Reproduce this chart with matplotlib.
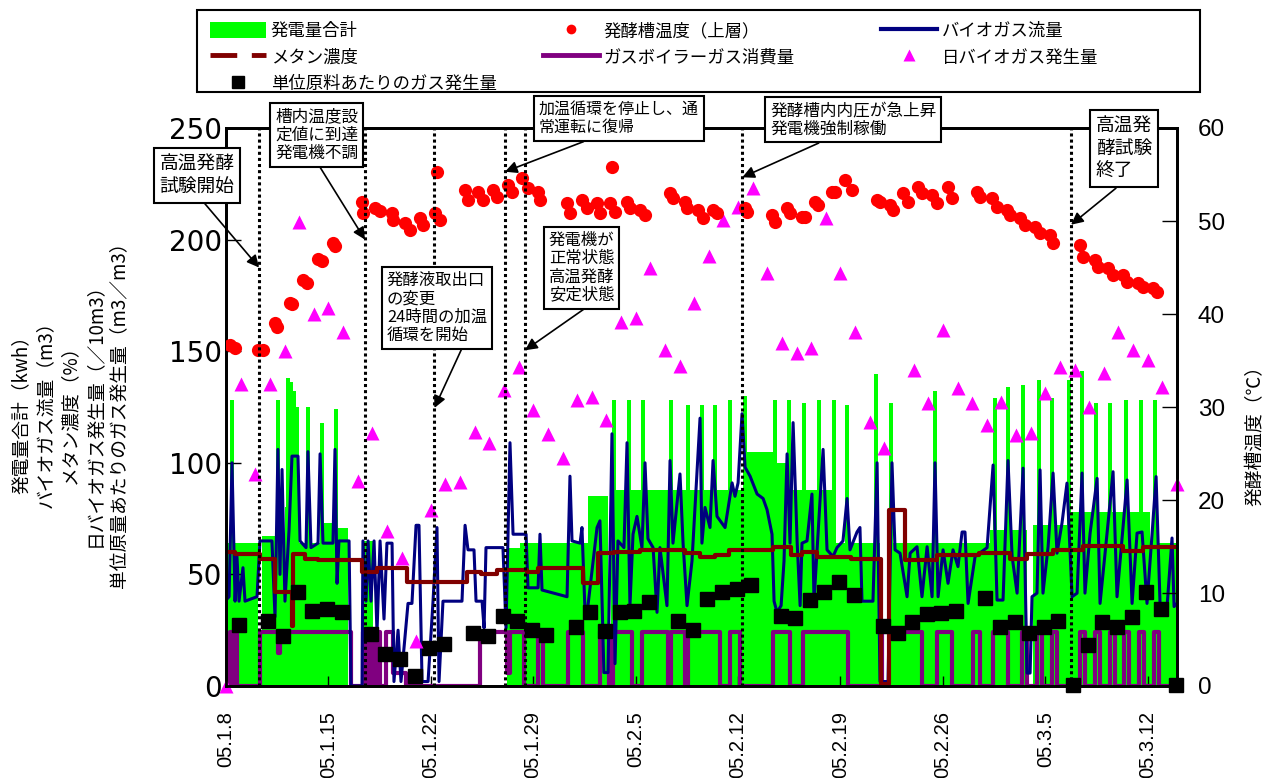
import matplotlib
matplotlib.use('Agg')
import matplotlib.pyplot as plt
from matplotlib.lines import Line2D
from matplotlib.patches import Patch, Rectangle

plt.rcParams['font.family'] = ['Noto Sans CJK JP', 'DejaVu Sans']

W, H = 1270, 778

# x axis: days counted from 05.1.8
date_ticks = [0, 7, 14, 21, 28, 35, 42, 49, 56, 63]
date_labels = ['05.1.8', '05.1.15', '05.1.22', '05.1.29', '05.2.5',
               '05.2.12', '05.2.19', '05.2.26', '05.3.5', '05.3.12']

# fermenter temperature (upper layer), right axis
temp_day = [0.27, 0.62, 2.19, 2.53, 3.35, 3.49, 4.37, 4.51, 5.26, 5.54, 6.29, 6.56, 7.31, 7.45,
            9.30, 9.36, 10.18, 10.53, 11.35, 11.41, 12.24, 12.58, 13.26, 13.47, 14.29, 14.42, 14.63,
            16.34, 16.54, 17.22, 17.57, 18.25, 18.52, 19.28, 19.55, 20.23, 20.64, 21.33, 21.46,
            23.31, 23.51, 24.33, 24.68, 25.36, 25.56, 26.25, 26.38, 26.59, 27.41, 27.61, 28.30, 28.64,
            30.35, 30.55, 31.37, 31.51, 32.26, 32.60, 33.29, 33.56, 35.48, 35.61,
            37.32, 37.53, 38.35, 38.55, 39.37, 39.58, 40.26, 40.46, 41.42, 41.63, 42.31, 42.79,
            44.50, 44.70, 45.39, 45.59, 46.27, 46.62, 47.30, 47.57, 48.26, 48.60, 49.35, 49.62,
            51.33, 51.54, 52.36, 52.70, 53.38, 53.59, 54.27, 54.61, 55.30, 55.64, 56.32, 56.53,
            58.37, 58.58, 59.40, 59.60, 60.29, 60.63, 61.31, 61.59, 62.34, 62.68, 63.36, 63.64]
temp_val = [36.7, 36.3, 36.1, 36.1, 39.0, 38.6, 41.2, 41.1, 43.7, 43.3, 45.9, 45.7, 47.6, 47.3,
            52.0, 50.9, 51.4, 51.1, 50.9, 50.1, 49.8, 49.0, 50.3, 49.6, 50.9, 55.3, 50.1,
            53.3, 52.3, 53.1, 52.3, 53.3, 52.6, 53.9, 53.1, 54.6, 53.5, 53.1, 52.3,
            51.9, 50.9, 52.3, 51.4, 51.9, 50.9, 51.9, 55.8, 51.0, 52.0, 51.4, 51.2, 50.6,
            53.0, 52.5, 52.0, 51.4, 51.2, 50.3, 51.2, 50.9, 51.4, 51.0,
            50.6, 49.9, 51.4, 50.9, 50.4, 50.4, 52.0, 51.7, 53.1, 53.1, 54.4, 53.3,
            52.3, 52.0, 51.7, 51.2, 53.0, 52.0, 53.7, 53.0, 52.8, 51.9, 53.7, 52.5,
            53.1, 52.6, 52.5, 51.5, 51.2, 50.6, 50.3, 49.6, 49.4, 48.7, 48.5, 47.6,
            47.4, 46.1, 45.8, 45.1, 44.9, 44.2, 44.2, 43.4, 43.3, 42.9, 42.8, 42.4]

# daily biogas production (/10 m3)
daily_day = list(range(0, 46)) + list(range(47, 66))
daily_val = [0, 135.3, 95, 135.3, 150, 208, 166.7, 169.4, 158.6, 91.8, 113.4, 69.4, 57.3, 20.2,
             78.9, 90.5, 91.4, 113.8, 108.9, 132.6, 142.9, 123.7, 112.9, 102.2, 128.1, 129.5,
             119.2, 163.1, 164.9, 187.3, 150.5, 143.4, 171.6, 192.7, 208.8, 214.6, 223.1, 185,
             153.7, 149.2, 151.4, 209.7, 185, 158.6, 118.3, 106.6,
             141.6, 126.8, 159.5, 133.5, 126.8, 116.9, 127.2, 112.5, 113.4, 131.3, 142.9, 141.6,
             125, 140.2, 158.6, 150.5, 146, 134, 90.5]

# gas production per unit feedstock
unit_day = [0.9, 2.9, 3.9, 4.9, 5.9, 6.9, 7.9, 9.9, 10.9, 11.9, 12.9, 13.9, 14.9,
            16.9, 17.9, 18.9, 19.9, 20.9, 21.9, 23.9, 24.9, 25.9, 26.9, 27.9, 28.9,
            30.9, 31.9, 32.9, 33.9, 34.9, 35.9, 37.9, 38.9, 39.9, 40.9, 41.9, 42.9,
            44.9, 45.9, 46.9, 47.9, 48.9, 49.9, 51.9, 52.9, 53.9, 54.9, 55.9, 56.9,
            57.9, 58.9, 59.9, 60.9, 61.9, 62.9, 63.9, 64.9]
unit_val = [27.3, 29.1, 22.4, 42.1, 33.6, 34.5, 33.2, 23.3, 14.3, 12.1, 4.5, 17, 18.8,
            23.7, 22.4, 31.4, 29.1, 25.1, 22.8, 26.4, 33.2, 24.6, 33.2, 33.6, 37.6,
            29.1, 25.1, 39, 42.1, 43.5, 45.3, 31.4, 30.5, 38.5, 42.1, 46.6, 40.8,
            26.9, 23.7, 28.7, 32.3, 32.7, 33.6, 39.4, 26.4, 28.7, 23.7, 26.4, 29.1,
            0.4, 18.4, 28.7, 26.4, 30.9, 42.1, 34.5, 0.4]

# power generation total: step levels and short peaks
power_day = [0, 2.19, 2.46, 4.03, 5.0, 6.43, 7.31, 8.34, 9.3, 10.05, 19.2, 20.1, 24.74,
             26.11, 26.32, 35.48, 37.39, 38.76, 41.63, 44.7, 45.18, 52.22, 54.75, 55.16,
             57.48, 63.16, 65]
power_val = [64, 0, 67, 80, 64, 73, 71, 0, 65, 0, 62, 64, 85,
             0, 88, 105, 100, 88, 64, 0, 64, 70, 0, 72,
             78, 64, 64]
peak_day = [0.41, 3.55, 4.24, 4.44, 4.65, 4.85, 5.6, 6.56, 7.52, 26.52, 27.55, 28.5, 30.42,
            31.58, 32.54, 33.42, 34.45, 35.48, 37.53, 38.48, 39.51, 40.53, 41.56, 42.45,
            44.43, 45.45, 48.46, 52.56, 53.45, 54.48, 55.57, 56.46, 57.62, 58.51, 59.47,
            60.42, 61.52, 62.54, 63.5]
peak_val = [128, 128, 138, 136, 132, 125, 125, 118, 124, 128, 128, 128, 128,
            126, 126, 126, 128, 130, 128, 128, 127, 128, 128, 126,
            140, 127, 132, 129, 134, 135, 137, 129, 137, 141, 127,
            127, 128, 128, 128]

# biogas flow
flow_day = [0.00, 0.21, 0.41, 0.62, 0.75, 0.89, 1.16, 1.30, 2.12, 2.32, 3.14, 3.35, 3.55, 3.69,
            3.83, 4.03, 4.31, 4.51, 4.92, 5.06, 5.47, 5.60, 5.81, 6.29, 6.43, 6.63, 7.31, 7.45,
            7.59, 7.72, 8.41, 8.54, 9.30, 9.36, 9.57, 9.71, 9.91, 10.12, 10.32, 10.53, 10.80,
            11.00, 11.35, 11.48, 11.76, 11.96, 12.44, 12.71, 12.99, 13.19, 13.40, 13.81, 14.15,
            14.42, 14.56, 14.83, 16.13, 16.34, 16.54, 16.95, 17.09, 17.50, 17.64, 17.77, 18.93,
            19.14, 19.41, 19.62, 20.51, 20.64, 21.33, 21.46, 21.60, 23.31, 23.51, 23.65, 24.20,
            24.33, 24.54, 24.74, 25.36, 25.56, 25.83, 26.11, 26.38, 26.59, 26.79, 27.20, 27.41,
            27.61, 27.82, 28.09, 28.43, 28.64, 28.84, 29.19, 29.46, 29.66, 30.14, 30.35, 30.55,
            31.03, 31.24, 31.51, 31.85, 32.40, 32.53, 32.74, 33.08, 33.29, 33.56, 34.11, 34.59,
            34.79, 35.00, 35.27, 35.48, 35.82, 36.30, 36.71, 36.98, 37.32, 37.46, 37.66, 37.94,
            38.14, 38.35, 38.55, 38.76, 39.04, 39.24, 39.37, 39.71, 40.05, 40.19, 40.40, 40.81,
            41.08, 41.49, 41.76, 42.17, 42.45, 42.65, 43.13, 43.33, 43.47, 44.22, 44.50, 44.70,
            45.25, 45.52, 45.73, 46.07, 46.55, 46.76, 47.23, 47.57, 47.92, 48.26, 48.46, 48.67,
            49.01, 49.35, 49.69, 50.03, 50.31, 50.51, 50.72, 51.20, 52.02, 52.43, 52.70, 53.11,
            53.45, 53.73, 54.07, 54.48, 54.75, 54.96, 55.09, 55.43, 55.64, 55.84, 56.19, 56.53,
            56.80, 57.14, 57.48, 57.83, 58.17, 58.51, 58.71, 59.06, 59.54, 59.74, 60.22, 60.63,
            60.90, 61.59, 61.93, 62.27, 62.61, 62.95, 63.30, 63.57, 63.84, 64.32, 64.66, 64.80,
            65.00]
flow_val = [38.5, 40, 100, 38, 58, 38, 53, 38, 40, 65, 65, 31, 106, 50,
            97, 38, 70, 103, 103, 65, 62, 105, 62, 64, 104, 64, 64, 106,
            46, 65, 65, 0, 0, 65, 38, 65, 38, 65, 24, 65, 30,
            64, 64, 2, 25, 2, 37, 37, 72, 72, 2, 2, 38,
            71, 2, 38, 38, 72, 61, 61, 38, 38, 26, 62, 62,
            26, 109, 68, 68, 44, 44, 68, 43, 40, 94, 65, 64,
            71, 33, 36, 71, 74, 6, 6, 113, 10, 65, 62, 109,
            36, 68, 76, 62, 100, 66, 62, 33, 62, 36, 101, 64,
            95, 64, 36, 56, 120, 64, 80, 71, 101, 76, 71, 91,
            85, 91, 122, 98, 94, 86, 84, 79, 68, 38, 33, 36,
            56, 104, 64, 118, 64, 36, 64, 65, 86, 38, 61, 106,
            61, 58, 62, 65, 84, 61, 69, 71, 38, 38, 100, 2,
            2, 100, 61, 59.5, 40, 59.5, 62.4, 40, 62.4, 40, 100, 40,
            61, 46, 61, 53.5, 69, 69, 37, 58, 62, 99, 38.5, 38.5,
            101, 58, 41.6, 97.6, 5.8, 5.8, 40, 41.6, 96.8, 41.6, 62.4, 95.4,
            59.5, 73, 90.9, 40, 41.6, 95.4, 41.6, 68.5, 93, 37, 68.5, 96,
            40, 92.3, 37, 68.5, 69, 37, 68.5, 93.8, 37, 35.6, 66.3, 35.6,
            37]

# methane concentration (step changes)
methane_day = [0, 0.6, 2.3, 3.35, 4.5, 4.56, 5.4, 6.3, 9.3, 10.3, 12.4, 16.5, 17.4, 18.5,
               20.6, 21.3, 24.4, 25.4, 26.5, 28.3, 31.4, 32.4, 33.4, 34.4, 37.4, 38.6, 39.4,
               40.4, 42.7, 44.75, 45.3, 46.4, 48.6, 51.5, 53.6, 54.75, 56.5, 58.6, 61.3, 62.7,
               65]
methane_val = [60, 59, 57, 42, 27, 59, 57, 56.5, 51, 53, 46.5, 51, 50, 52,
               51, 53, 46, 59.6, 60, 61, 59.6, 58, 58.7, 61, 62.3, 58.7, 60,
               58, 57, 1, 79, 56.5, 58.7, 59.6, 57, 59, 61, 62.7, 60.5, 62.3,
               62.3]

# gas boiler consumption (on/off steps)
boiler_day = [0, 0.27, 0.41, 0.55, 0.75, 2.32, 3.55, 3.7, 8.54, 9.36, 9.57, 9.77, 10.05,
              10.25, 10.53, 10.94, 11.41, 12.3, 17.36, 19.2, 19.4, 20.4, 21.3, 21.67, 23.4,
              24.4, 25.56, 26.18, 26.45, 27.75, 28.43, 30.2, 30.4, 31.37, 31.58, 33.77, 34.45,
              35.13, 37.39, 38.55, 39.44, 42.5, 44.84, 47.57, 48.6, 49.62, 51.06, 51.54, 52.43,
              53.45, 54.4, 54.75, 55.43, 55.78, 56.46, 56.8, 58.37, 58.7, 59.4, 59.74, 60.42,
              60.77, 61.38, 61.72, 62.4, 62.75, 63.43, 63.77, 65]
boiler_val = [0, 24, 0, 24, 0, 24, 15, 24, 0, 24, 0, 24, 0,
              24, 0, 24, 6, 0, 24, 6, 24, 0, 24, 0, 24,
              0, 24, 0, 24, 0, 24, 0, 24, 0, 24, 0, 24,
              0, 24, 0, 24, 0, 24, 0, 24, 0, 24, 0, 24,
              0, 24, 0, 24, 0, 24, 0, 24, 0, 24, 0, 24,
              0, 24, 0, 24, 0, 24, 0, 0]

# event markers (days) and notes
event_day = [2.26, 9.5, 14.25, 19.07, 20.44, 35.29, 57.76]
notes = [
    ('高温発酵\n試験開始', 154, 148, 2.26, 45.0, 0.53, 13.5),
    ('槽内温度設\n定値に到達\n発電機不調', 270, 103, 9.5, 48.0, 0.5, 12),
    ('発酵液取出口\nの変更\n24時間の加温\n循環を開始', 382, 267, 14.25, 29.9, 0.77, 11.8),
    ('加温循環を停止し、通\n常運転に復帰', 534, 96, 19.07, 55.3, 0.37, 11.5),
    ('発電機が\n正常状態\n高温発酵\n安定状態', 544, 227, 20.44, 36.1, 0.65, 11.8),
    ('発酵槽内内圧が急上昇\n発電機強制稼働', 765, 97, 35.29, 54.7, 0.37, 12),
    ('高温発\n酵試験\n終了', 1090, 110, 57.76, 49.6, 0.5, 13.5),
]

fig = plt.figure(figsize=(W / 100, H / 100), dpi=100)
ax = fig.add_axes([226 / W, 1 - 686 / H, (1177 - 226) / W, (686 - 128) / H])
ax2 = ax.twinx()

ax.fill_between(power_day, power_val, step='post', color='#00ff00', lw=0, zorder=1)
ax.bar(peak_day, peak_val, width=0.28, color='#00ff00', lw=0, zorder=1)
ax.plot(flow_day, flow_val, color='#000080', lw=2.2, zorder=3)
ax.step(boiler_day, boiler_val, where='post', color='#800080', lw=3, zorder=2)
ax.step(methane_day, methane_val, where='post', color='#800000', lw=3, zorder=4)
ax.plot(unit_day, unit_val, 's', color='black', ms=9.5, zorder=6, clip_on=False)
ax.plot(daily_day, daily_val, '^', color='#ff00ff', ms=10.5, mec='none', zorder=7, clip_on=False)

ax.set_xlim(0, 65)
ax.set_ylim(0, 250)
ax.set_yticks(range(0, 251, 50))
ax.set_xticks(date_ticks)
ax.set_xticklabels(date_labels, rotation=90, fontsize=14.5, family='Liberation Sans')
for lab in ax.get_yticklabels():
    lab.set_fontsize(20)
    lab.set_family('DejaVu Sans')
ax.tick_params(axis='y', direction='in', length=11, width=1, pad=3)
ax.tick_params(axis='x', direction='in', length=7, width=1, pad=18)

ax2.plot(temp_day, temp_val, 'o', color='red', ms=9.5, mec='none', zorder=8)
ax2.set_ylim(0, 60)
ax2.set_yticks(range(0, 61, 10))
for lab in ax2.get_yticklabels():
    lab.set_fontsize(17.5)
    lab.set_family('Liberation Sans')
ax2.tick_params(axis='y', direction='in', length=11, width=1, pad=15)
ax2.set_xlim(0, 65)

for a in (ax, ax2):
    for s in a.spines.values():
        s.set_linewidth(2)
        s.set_color('black')

for d in event_day:
    ax2.axvline(d, color='black', lw=2.2, ls=(0, (1, 1)), zorder=9)

for text, bx, by, tx, ty, rel, fs in notes:
    pad = 0.3 * fs * 100 / 72
    ax2.annotate(text, xy=(tx, ty), xycoords='data',
                 xytext=((bx + pad) / W, 1 - (by + pad) / H), textcoords='figure fraction',
                 ha='left', va='top', fontsize=fs, linespacing=1.1, zorder=10,
                 bbox=dict(boxstyle='square,pad=0.3', fc='white', ec='black', lw=1.5),
                 arrowprops=dict(arrowstyle='-|>', color='black', lw=1.2, mutation_scale=18,
                                 relpos=(rel, 0), shrinkA=0, shrinkB=0))

fig.text(70 / W, 1 - 410 / H,
         '発電量合計（kwh）\nバイオガス流量（m3）\nメタン濃度（%）\n日バイオガス発生量（／10m3）\n単位原量あたりのガス発生量（m3／m3）',
         rotation=90, ha='center', va='center', multialignment='center', fontsize=13.5,
         linespacing=1.2)
fig.text(1255 / W, 1 - 431 / H, '発酵槽温度（℃）', rotation=90, ha='center', va='center',
         fontsize=13.5)

# legend: frame + three columns
fig.add_artist(Rectangle((197 / W, 1 - 92 / H), (1200 - 197) / W, (92 - 10) / H,
                         transform=fig.transFigure, fill=False, ec='black', lw=1.5))
h_power = Patch(facecolor='#00ff00', edgecolor='none')
h_temp = Line2D([], [], ls='none', marker='o', color='red', ms=7, mec='none')
h_flow = Line2D([], [], color='#000080', lw=3)
h_meth = Line2D([], [], color='#800000', lw=3.5, ls=(0, (5.5, 3)))
h_boil = Line2D([], [], color='#800080', lw=3.5)
h_daily = Line2D([], [], ls='none', marker='^', color='#ff00ff', ms=9, mec='none')
h_unit = Line2D([], [], ls='none', marker='s', color='black', ms=8)
cols = [
    ([h_power, h_meth, h_unit], ['発電量合計', 'メタン濃度', '単位原料あたりのガス発生量'], 210),
    ([h_temp, h_boil], ['発酵槽温度（上層）', 'ガスボイラーガス消費量'], 543),
    ([h_flow, h_daily], ['バイオガス流量', '日バイオガス発生量'], 881),
]
for hs, ls, x0 in cols:
    fig.legend(hs, ls, loc='upper left', bbox_to_anchor=(x0 / W, 1 - 22 / H), frameon=False,
               fontsize=12.5, handlelength=3.2, handleheight=1.0, handletextpad=0.3,
               labelspacing=0.48, borderpad=0, borderaxespad=0)

fig.savefig('out.png', dpi=100)
